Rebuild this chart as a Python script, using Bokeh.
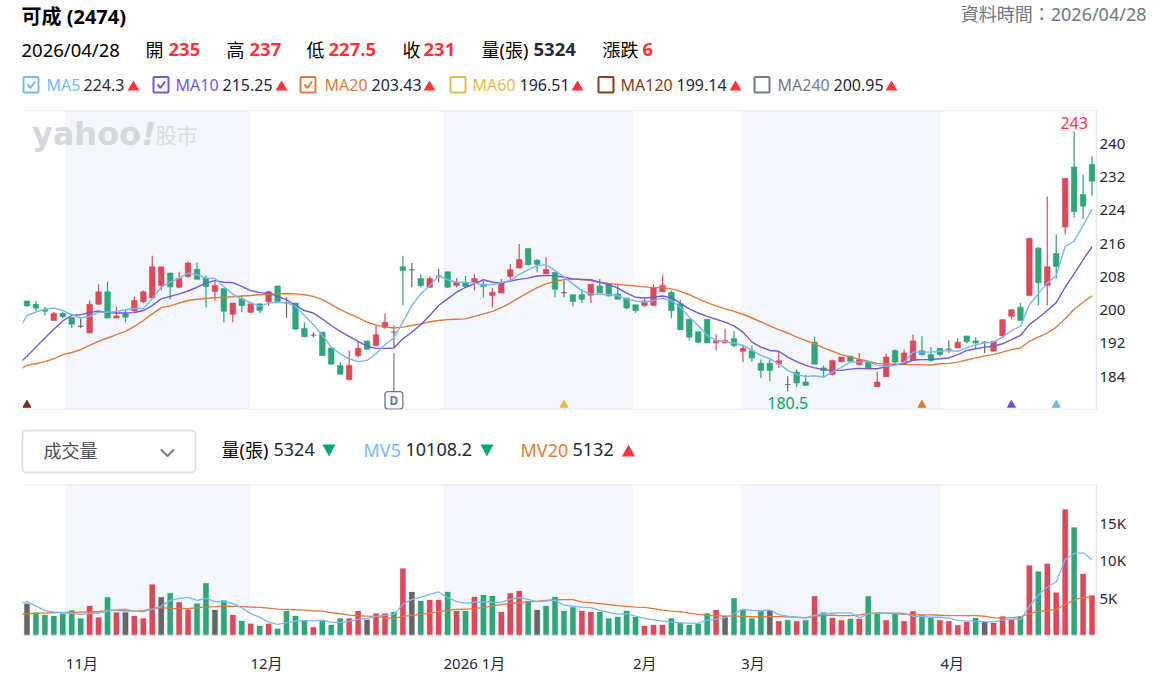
from bokeh.embed import file_html
from bokeh.layouts import column
from bokeh.models import (BoxAnnotation, ColumnDataSource, FixedTicker, Label, LinearAxis,
                          Range1d, Span)
from bokeh.plotting import figure
from bokeh.resources import INLINE

opens = [202.2,201.4,200.2,197.5,199.2,198.2,196.1,194.5,201.4,204.4,198.1,199.1,199.8,202.0,202.9,205.9,208.9,205.5,208.1,209.8,
 207.7,204.5,205.2,199.0,202.7,199.5,201.5,202.0,205.8,201.7,201.7,195.6,194.0,194.7,190.9,186.7,183.3,189.0,192.6,191.5,
 195.8,194.7,210.4,209.7,207.6,205.5,208.2,209.2,205.9,206.7,206.7,206.2,203.5,204.1,208.1,210.1,214.8,212.0,208.7,209.1,
 204.2,203.7,203.7,203.6,205.8,206.2,203.9,202.9,201.3,201.1,201.1,204.4,204.3,201.5,197.8,194.8,197.8,192.1,192.1,193.2,
 190.1,190.2,187.2,187.2,187.1,182.1,185.1,182.7,192.3,186.1,184.5,187.6,188.9,186.9,187.5,181.6,184.0,190.3,187.6,187.9,
 190.2,189.3,190.8,190.6,190.9,193.8,192.6,192.3,190.1,193.8,198.5,200.7,203.5,214.9,205.9,213.6,220.0,234.4,227.8,235.0]
highs = [202.2,202.2,200.8,199.6,199.6,198.2,198.0,202.3,206.2,206.8,200.8,200.1,203.3,204.7,213.1,210.4,209.0,209.2,211.7,211.4,
 208.3,206.7,205.2,201.7,203.5,201.5,201.5,204.7,205.8,203.1,201.7,197.1,194.7,194.7,190.9,187.5,190.3,192.5,192.6,196.5,
 199.2,196.3,213.1,211.3,208.6,208.2,209.9,209.2,207.7,208.2,208.6,207.1,205.4,207.5,211.1,215.9,214.8,212.3,212.7,209.1,
 207.1,203.7,205.1,206.2,207.5,206.2,206.2,203.0,201.3,203.1,206.2,208.3,204.7,202.5,197.8,194.8,197.8,194.2,195.5,195.0,
 191.7,191.5,188.1,188.1,190.1,184.1,185.7,184.4,193.6,186.7,188.1,188.7,189.1,189.7,187.5,185.1,189.5,190.5,190.5,194.1,
 193.7,191.1,190.8,192.7,193.2,193.8,193.5,192.5,192.6,197.8,200.1,201.7,217.3,215.2,227.3,218.2,231.7,243.0,232.6,237.0]
lows = [200.8,199.7,198.7,197.5,198.0,195.7,195.7,194.5,201.4,198.1,198.1,197.1,199.5,201.7,202.9,204.7,202.6,205.3,207.7,207.4,
 200.7,202.3,197.1,197.1,199.5,199.3,199.3,201.0,202.0,198.1,195.4,193.6,193.5,189.1,187.0,184.6,183.1,188.7,190.6,191.5,
 195.5,191.0,201.1,205.5,205.5,205.4,206.7,205.3,205.5,205.5,204.7,203.1,200.7,204.1,207.1,210.1,210.7,209.1,208.7,203.1,
 203.1,200.9,201.7,201.7,204.1,203.3,202.6,200.2,199.3,200.8,201.1,204.4,198.1,195.3,192.7,192.1,192.1,190.3,192.0,191.1,
 187.5,187.6,183.7,182.9,186.1,180.5,181.5,181.9,187.0,183.7,184.3,187.4,187.7,186.7,186.0,181.6,184.0,187.1,187.4,187.9,
 189.1,187.6,188.9,189.7,190.9,192.1,190.7,189.7,190.1,193.5,197.8,197.5,203.5,201.1,201.1,207.5,218.2,222.2,221.9,227.5]
closes = [201.0,200.5,199.7,199.2,198.4,196.6,196.1,201.4,204.4,198.1,198.6,198.3,202.3,204.4,210.4,210.4,205.6,207.6,211.3,207.4,
 205.7,205.9,199.7,201.7,201.1,201.5,199.9,204.4,202.0,201.7,195.4,193.6,194.0,189.1,187.0,184.6,186.7,190.8,190.6,194.1,
 197.1,194.7,209.5,209.7,205.9,207.6,208.2,205.5,206.7,205.7,207.6,205.7,204.3,206.6,209.7,212.2,210.9,211.0,209.8,205.0,
 204.2,202.1,202.6,206.2,204.1,203.4,202.6,200.5,199.9,202.2,205.3,205.9,199.9,195.3,193.5,192.3,192.1,192.7,192.7,191.5,
 190.8,188.5,185.5,185.5,187.8,182.1,182.5,181.9,187.0,185.5,187.9,188.7,187.7,188.1,186.1,182.7,188.7,187.5,189.7,192.6,
 189.3,187.9,189.3,190.6,192.3,192.4,192.1,192.3,192.5,197.7,200.1,197.5,217.3,206.6,210.4,210.5,231.7,223.7,225.0,231.0]

ma5 = [195.0,198.7,199.5,200.2,200.5,199.9,198.9,198.1,198.5,199.5,199.5,199.7,200.1,200.4,200.4,202.7,205.5,206.7,207.7,208.9,208.5,
 207.7,207.6,205.7,203.8,202.7,201.8,200.9,201.7,201.9,201.8,200.9,198.7,196.5,193.9,191.1,189.5,188.3,187.6,187.9,189.5,
 191.7,193.3,197.1,201.1,203.9,205.9,208.2,207.3,206.7,206.6,206.5,206.1,206.1,206.6,207.1,208.6,209.7,210.7,210.9,209.5,
 208.0,206.3,204.7,203.9,203.8,203.7,203.5,202.7,202.2,201.9,202.3,202.9,202.3,200.7,198.3,196.3,193.9,192.7,192.4,192.1,
 191.5,190.3,189.1,188.3,187.1,185.5,184.5,184.0,184.2,183.9,185.1,186.3,187.5,187.5,187.7,186.7,186.5,186.7,187.5,189.9,
 189.9,189.9,190.1,190.3,190.1,190.9,191.7,192.1,192.3,193.5,195.1,196.1,201.3,203.9,206.5,208.3,215.3,216.6,220.3,224.3]
ma10 = [186.9,188.9,191.1,193.3,195.4,197.4,198.7,198.9,199.4,199.8,199.4,199.3,199.3,199.4,199.9,201.1,202.7,203.3,203.9,204.6,205.5,
 206.5,207.1,206.7,206.6,205.7,204.7,204.2,204.1,203.3,202.5,201.1,199.9,199.3,197.9,196.3,194.9,193.7,192.5,191.3,190.8,
 190.8,190.9,193.1,194.7,196.5,198.7,201.1,202.7,204.3,205.5,206.3,207.3,206.7,206.5,207.0,207.4,207.7,208.2,208.3,208.3,
 207.9,207.5,207.4,207.3,206.7,206.2,205.3,204.1,203.1,202.9,203.1,203.4,203.0,201.7,200.3,199.3,198.5,197.8,197.1,196.2,
 194.7,192.3,191.1,190.3,190.1,188.7,187.6,186.7,186.1,185.7,185.5,185.5,185.8,186.0,185.9,185.9,186.4,186.9,187.1,188.0,
 188.1,188.1,188.3,188.5,189.3,190.3,190.7,191.1,191.3,191.9,192.9,193.9,196.5,198.1,199.9,201.8,205.5,208.7,212.1,215.25]
ma20 = [185.5,186.7,187.1,187.6,188.3,189.3,189.8,190.5,191.5,192.5,193.3,194.1,194.9,196.1,197.5,199.1,200.6,201.0,201.7,202.3,202.6,
 202.8,203.0,203.1,203.2,203.4,203.5,203.7,203.8,203.9,204.0,203.9,203.7,203.3,202.5,201.4,200.1,199.1,198.2,197.1,196.4,
 196.0,195.7,195.9,196.3,196.7,197.2,197.5,197.7,197.8,197.9,198.5,199.1,199.7,200.6,201.7,203.0,204.2,205.4,206.3,206.9,
 207.3,207.5,207.3,207.1,206.7,206.4,206.2,206.0,205.8,205.6,205.4,205.4,205.1,204.5,203.7,202.7,201.8,201.0,200.3,199.7,
 199.0,198.1,197.2,196.2,195.3,194.5,193.5,192.7,191.9,190.9,190.1,189.3,188.7,188.2,187.7,187.2,187.1,187.0,186.9,186.9,
 186.9,186.8,187.1,187.2,187.5,188.0,188.5,189.0,189.3,189.9,190.5,190.9,192.5,193.5,194.5,195.9,197.9,200.2,201.9,203.43]

volumes = [4240,3077,2720,2587,2900,3345,2275,3925,2408,5084,3077,3077,2587,2275,6780,5084,5620,4415,3480,4240,
 6960,3390,4680,2720,1918,1560,1250,1560,892,3256,2587,1918,1115,1918,1383,2275,2275,3256,2096,2944,
 2944,3122,8920,5800,4590,4730,4730,5800,3256,3256,5130,5400,5260,3120,5620,5930,4590,3390,3925,5130,
 3256,3750,3256,3122,3122,2275,2450,3256,2450,1250,1383,1383,2275,1695,1383,1560,2944,3390,2587,4950,
 3480,2275,3230,3320,1900,2035,1900,2035,5220,3050,2345,2035,2210,2210,5220,2965,2035,2965,1900,3230,
 2700,2345,2035,1900,1370,1815,2345,1815,1680,2520,2125,2520,9340,8540,9560,5710,16800,14380,8190,5324]
vol_dirs = "n g g g g g g r r g r n r r r n g r r g g n g r g r g r g g g g r g g g r r n r r g r n g r r g r g r g g r r r g n g g g g r r g g g g g r r r g g g g g r n g g g g n r g r g r g r r g r g g r g r r g g r r r r g n r r r g r g r r r g r r".split()
mv5 = [4237,4505,3925,3345,3122,3033,2943,2810,2943,2988,3256,3434,3523,3256,3167,3479,3925,4683,4950,5084,4683,
 4950,4504,4504,4237,3702,2899,2453,1784,1472,1695,1918,2007,1918,2096,1739,1739,1918,2141,2275,2542,
 2720,2810,4148,4817,5129,5486,5798,5040,4505,4326,4415,4505,4415,4415,4861,5040,4817,4505,4594,4683,
 4059,3925,3791,3702,3345,3077,2854,2899,2587,2275,2096,1918,1784,1695,1650,1650,2007,2185,2364,2899,
 3479,3345,3319,3407,2788,2566,2434,2345,2699,2920,2965,3009,3009,2345,2876,2965,2965,3009,2965,2566,
 2522,2434,2434,2345,1991,1903,1903,1815,1815,2080,2168,2124,3894,5354,6460,7124,10089,10930,11018,10108]
mv20 = [2810,2899,2944,2988,3033,3077,3077,3122,3167,3167,3345,3345,3300,3256,3300,3568,3702,3613,3568,3568,3702,
 3791,3836,3925,3880,3836,3791,3746,3657,3523,3479,3434,3390,3300,3256,3033,2899,2721,2631,2587,2542,
 2364,2275,2542,2676,2810,2988,3167,3345,3479,3523,3568,3746,3925,4103,4282,4371,4505,4549,4683,4728,
 4772,4772,4460,4371,4237,4103,3969,3880,3791,3746,3568,3390,3256,3167,2988,2810,2676,2631,2587,2587,
 2542,2498,2453,2522,2522,2478,2434,2345,2567,2699,2699,2655,2655,2744,2920,3009,2965,2920,2832,2788,
 2744,2744,2699,2655,2655,2655,2655,2567,2345,2345,2390,2478,2876,3230,3319,3452,4115,4735,5089,5132]

price_ticks = [184, 192, 200, 208, 216, 224, 232, 240]
volume_ticks = [5000, 10000, 15000]
volume_tick_labels = {5000: "5K", 10000: "10K", 15000: "15K"}
month_labels = ["11月", "12月", "2026 1月", "2月", "3月", "4月"]
month_starts = [4.34, 24.97, 46.54, 67.7, 79.8, 102.07]
shaded_months = [(4.34, 24.97), (46.54, 67.7), (79.8, 102.07)]
signal_index = [0, 60, 100, 110, 115]
signal_colors = ["#7a3118", "#e9b949", "#dd7a3e", "#7050d8", "#78b4f0"]

RED, GREEN, GRAY = "#dc4a5a", "#2fa578", "#666666"
TEXT_RED, TEXT_GREEN = "#ff333a", "#00a86b"
C5, C10, C20 = "#7ab8f5", "#7557dc", "#e07b40"
GRID, BAND, DARK = "#e4e6eb", "#f3f6fa", "#232a31"
FONT = "'Noto Sans', 'Noto Sans CJK TC'"
W = 1160
dir_color = {"r": RED, "g": GREEN, "n": GRAY}
candle_colors = [RED if c > o else GREEN if c < o else GRAY for o, c in zip(opens, closes)]
idx = list(range(120))
line_idx = list(range(-1, 120))


def make_chart(h, y0, y1, ticks, bottom=1):
    p = figure(width=W, height=h, x_range=Range1d(-0.5, 119.5), y_range=Range1d(y0, y1),
               output_backend="svg", toolbar_location=None, x_axis_type=None, y_axis_type=None,
               min_border_left=22, min_border_right=64, min_border_top=1, min_border_bottom=bottom,
               outline_line_color=None, background_fill_color="white", border_fill_color="white",
               frame_align=False)
    ax = LinearAxis(ticker=FixedTicker(ticks=ticks), axis_line_color=GRID, axis_line_width=1.5,
                    major_tick_line_color=None, minor_tick_line_color=None, major_tick_out=0,
                    major_label_text_font=FONT, major_label_text_font_size="15px",
                    major_label_text_color=DARK, major_label_standoff=3)
    p.add_layout(ax, "right")
    p.ygrid.ticker = FixedTicker(ticks=ticks)
    p.ygrid.grid_line_color = GRID
    p.ygrid.grid_line_width = 1.5
    p.xgrid.visible = False
    for a, b in shaded_months:
        p.quad(left=a, right=b, bottom=y0, top=y1, fill_color=BAND, line_color=None, level="image")
    for yy in (y0, y1):
        p.add_layout(Span(location=yy, dimension="width", line_color=GRID, line_width=1.5))
    return p, ax


def make_strip(top, bottom):
    """A bare figure whose data coordinates are the page pixels between two heights."""
    return figure(width=W, height=bottom - top, x_range=Range1d(0, W), y_range=Range1d(bottom, top),
                  output_backend="svg", toolbar_location=None, x_axis_type=None, y_axis_type=None,
                  min_border=0, outline_line_color=None, background_fill_color="white",
                  border_fill_color="white", frame_align=False)


def add_text(p, X, Y, t, size=16, color=DARK, bold=False, align="left", font=FONT, style=None):
    p.add_layout(Label(x=X, y=Y, text=t, text_font=font, text_font_size=f"{size}px", text_color=color,
                       text_align=align, text_baseline="middle",
                       text_font_style=style or ("bold" if bold else "normal")))


def tri(p, X, Y, color, up=True, w=12, h=10):
    ys = [Y + h / 2, Y + h / 2, Y - h / 2] if up else [Y - h / 2, Y - h / 2, Y + h / 2]
    p.patch([X - w / 2, X + w / 2, X], ys, fill_color=color, line_color=None)


def box(p, X0, Y0, X1, Y1, color, w=2, radius=1):
    p.add_layout(BoxAnnotation(left=X0, right=X1, top=Y0, bottom=Y1, fill_alpha=0, line_color=color,
                               line_width=w, line_alpha=1, border_radius=radius, editable=False))


# ---- header ----
head = make_strip(0, 109)
add_text(head, 21, 16, "可成 (2474)", 20, "#000000", True)
add_text(head, 1146, 13.5, "資料時間：2026/04/28", 18, "#6e7780", align="right")
row = 49
add_text(head, 21, row, "2026/04/28", 18.5, "#000000")
for X, t, Xv, v in ((145, "開", 168, "235"), (226, "高", 249, "237"), (306, "低", 328, "227.5"),
                    (402, "收", 423, "231")):
    add_text(head, X, row, t, 18, "#000000")
    add_text(head, Xv, row, v, 18.5, TEXT_RED, True)
add_text(head, 481, row, "量(張)", 18, "#000000")
add_text(head, 533, row, "5324", 18.5, DARK, True)
add_text(head, 602, row, "漲跌", 18, "#000000")
add_text(head, 642, row, "6", 18.5, TEXT_RED, True)

legend = [("MA5", C5, "224.3", 22, 46, 83, 133, True), ("MA10", C10, "215.25", 152, 175, 222, 281, True),
          ("MA20", C20, "203.43", 299, 324, 371, 429, True), ("MA60", "#eab84e", "196.51", 449, 472, 519, 577, False),
          ("MA120", "#8a3b1f", "199.14", 597, 620, 676, 735, False), ("MA240", "#737c86", "200.95", 753, 777, 833, 891, False)]
for name, col, val, bx, tx, vx, ax_, chk in legend:
    box(head, bx + 1, 76.5, bx + 16, 92, col)
    if chk:
        head.line([bx + 5, bx + 8, bx + 12.5], [84, 87.5, 81], line_color=col, line_width=2)
    add_text(head, tx, 84.5, name, 16, col)
    add_text(head, vx, 84.5, val, 16, DARK)
    tri(head, ax_, 85, TEXT_RED)

# ---- price chart ----
p1, ax1 = make_chart(307, 176.1, 248.0, price_ticks, bottom=7)
add_text(p1, 0.55, 242.3, "yahoo", 32, "#d5d8dc", True, font="'DejaVu Sans'")
add_text(p1, 12.8, 242.3, "!", 32, "#d5d8dc", font="'DejaVu Sans'", style="bold italic")
add_text(p1, 14.36, 242.1, "股市", 21, "#dadde1")

src = ColumnDataSource(dict(x=idx, o=opens, h=highs, l=lows, c=closes, col=candle_colors,
                            top=[max(a, b) for a, b in zip(opens, closes)],
                            bot=[min(a, b) for a, b in zip(opens, closes)]))
p1.segment(x0="x", x1="x", y0="l", y1="h", color="col", line_width=1.2, source=src)
p1.vbar(x="x", width=0.62, top="top", bottom="bot", fill_color="col", line_color="col", line_width=0.6, source=src)
for data, col in ((ma20, C20), (ma10, C10), (ma5, C5)):
    p1.line(line_idx, data, line_color=col, line_width=1.4)
p1.scatter(signal_index, [177.2] * len(signal_index), marker="triangle", size=8, fill_color=signal_colors,
           line_color=signal_colors)

p1.segment(x0=[41], x1=[41], y0=[180.4], y1=[189.6], line_color="#6e7780", line_width=1.2)
p1.add_layout(BoxAnnotation(left=40, right=42, top=180.4, bottom=176.2, fill_color="white", fill_alpha=1,
                            line_color="#6e7780", line_width=1.3, line_alpha=1, border_radius=3, editable=False))
p1.add_layout(Label(x=41, y=178.2, text="D", text_font=FONT, text_font_size="12px", text_font_style="bold",
                    text_color="#6e7780", text_align="center", text_baseline="middle"))
p1.add_layout(Label(x=117, y=243, y_offset=2, text="243", text_font=FONT, text_font_size="16px",
                    text_color=TEXT_RED, text_align="center", text_baseline="bottom"))
p1.add_layout(Label(x=85, y=180.5, y_offset=-6, text="180.5", text_font=FONT, text_font_size="16px",
                    text_color=TEXT_GREEN, text_align="center", text_baseline="top"))

# ---- volume header ----
mid = make_strip(416, 483)
box(mid, 22, 430, 195, 472, "#dfe2e6", 2, 4)
add_text(mid, 43, 450, "成交量", 18, "#464e56")
mid.line([160.5, 167, 173.5], [449, 455.5, 449], line_color="#6e7780", line_width=1.8)
add_text(mid, 221, 449, "量(張)", 18, "#000000")
add_text(mid, 273, 449, "5324", 18, DARK)
tri(mid, 328.5, 450, TEXT_GREEN, False, 13, 12)
add_text(mid, 363, 449, "MV5", 18, C5)
add_text(mid, 405, 449, "10108.2", 18, DARK)
tri(mid, 486.5, 450, TEXT_GREEN, False, 13, 12)
add_text(mid, 520, 449, "MV20", 18, C20)
add_text(mid, 572, 449, "5132", 18, DARK)
tri(mid, 628, 450, TEXT_RED, True, 13, 12)

# ---- volume chart ----
p2, ax2 = make_chart(153, 0, 20120, volume_ticks)
ax2.major_label_overrides = volume_tick_labels
p2.vbar(x=idx, width=0.6, top=volumes, bottom=0, fill_color=[dir_color[d] for d in vol_dirs],
        line_color=[dir_color[d] for d in vol_dirs], line_width=0.4, line_alpha=0.6)
p2.line(line_idx, mv20, line_color=C20, line_width=1.3)
p2.line(line_idx, mv5, line_color=C5, line_width=1.3)

# ---- month labels ----
foot = figure(width=W, height=44, x_range=Range1d(-0.5, 119.5), y_range=Range1d(44, 0), output_backend="svg",
              toolbar_location=None, x_axis_type=None, y_axis_type=None, min_border_left=22, min_border_right=64,
              min_border_top=0, min_border_bottom=0, outline_line_color=None,
              background_fill_color="white", border_fill_color="white", frame_align=False)
for t, m in zip(month_labels, month_starts):
    add_text(foot, m, 26, t, 15, DARK)

open("out.html", "w").write(file_html(column(head, p1, mid, p2, foot, spacing=0), INLINE))
